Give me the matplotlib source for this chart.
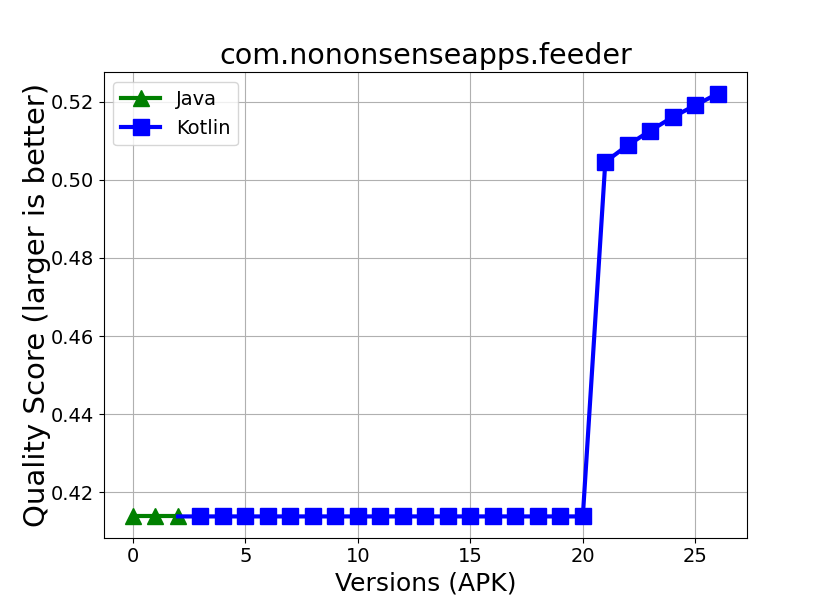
import matplotlib
matplotlib.use("Agg")
import matplotlib.pyplot as plt

java_x = [0, 1, 2]
java_y = [0.4138, 0.4138, 0.4138]
kotlin_x = list(range(3, 27))
kotlin_y = [0.4138] * 18 + [0.5046, 0.5089, 0.5126, 0.5161, 0.5191, 0.5221]

fig = plt.figure(figsize=(8.3, 6.04), dpi=100)
ax = fig.add_subplot(111)
ax.plot(java_x, java_y, color="green", marker="^", linewidth=3, markersize=11, label="Java")
ax.plot([java_x[-1]] + kotlin_x, [java_y[-1]] + kotlin_y, color="blue", marker="s",
        linewidth=3, markersize=11, label="Kotlin", markevery=list(range(1, len(kotlin_x) + 1)))
ax.grid(True)
ax.set_title("com.nononsenseapps.feeder", fontsize=20.5)
ax.set_xlabel("Versions (APK)", fontsize=18)
ax.set_ylabel("Quality Score (larger is better)", fontsize=21, labelpad=0)
ax.tick_params(labelsize=14)
ax.legend(loc="upper left", fontsize=14)
fig.savefig("out.png", dpi=100)
